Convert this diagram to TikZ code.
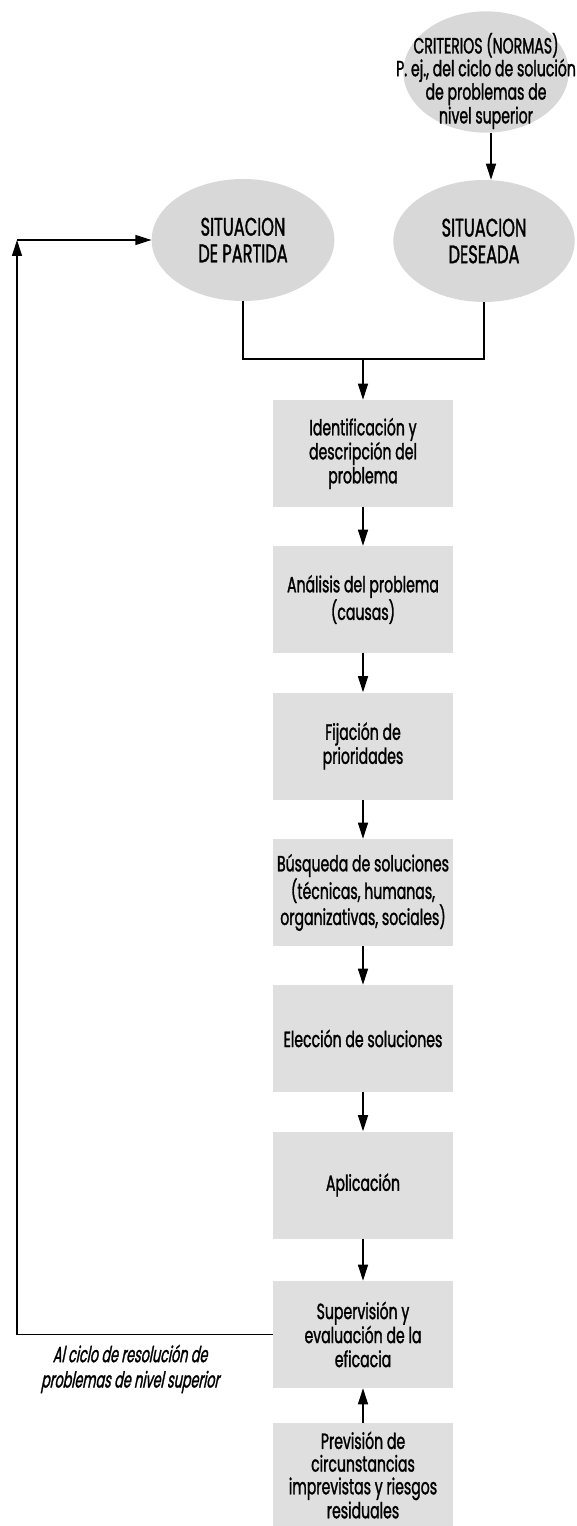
\documentclass[tikz,border=0pt]{standalone}
\usepackage{fontspec}
\setmainfont{Poppins}[FakeStretch=0.64,FakeBold=1.3]
\newfontfamily\notefont{Poppins}[FakeStretch=0.58,FakeSlant=0.2,FakeBold=1.3]
\usetikzlibrary{arrows.meta,shapes.geometric}
\definecolor{ellfill}{RGB}{216,216,216}
\definecolor{boxfill}{RGB}{223,223,223}

\begin{document}
\begin{tikzpicture}[x=0.75pt,y=-0.75pt,
  conn/.style={line width=0.9pt,black},
  flow/.style={conn,-{Triangle[width=7.5pt,length=12pt]}},
  stepbox/.style={fill=boxfill,minimum width=135pt,minimum height=80.25pt,
    inner sep=0pt,align=center,font=\fontsize{16.5}{18}\selectfont},
  state/.style={ellipse,fill=ellfill,inner sep=0pt,align=center,
    font=\fontsize{19}{20}\selectfont},
  caption/.style={inner sep=0pt,align=center},
]
\clip (0,0) rectangle (576,1526);

% states
\node[state,minimum width=124pt,minimum height=91pt] (crit) at (486,72) {};
\node[caption,font=\fontsize{16.5}{15}\selectfont] (critlabel) at (486,81)
  {CRITERIOS (NORMAS)\\P. ej., del ciclo de solución\\de problemas de\\nivel superior};
\node[state,minimum width=137pt,minimum height=91.5pt] (part) at (243,240) {SITUACION\\DE PARTIDA};
\node[state,minimum width=136pt,minimum height=91.5pt] (des) at (484,241) {SITUACION\\DESEADA};

% process steps
\node[stepbox] (b1) at (363,453.5) {Identificación y\\descripción del\\problema};
\node[stepbox] (b2) at (363,599.5) {Análisis del problema\\(causas)};
\node[stepbox] (b3) at (363,746) {Fijación de\\prioridades};
\node[stepbox] (b4) at (363,892.5) {Búsqueda de soluciones\\(técnicas, humanas,\\organizativas, sociales)};
\node[stepbox] (b5) at (363,1038.5) {Elección de soluciones};
\node[stepbox] (b6) at (363,1185) {Aplicación};
\node[stepbox] (b7) at (363,1334.5) {Supervisión y\\evaluación de la\\eficacia};
\node[stepbox,minimum height=78pt,font=\fontsize{16.5}{17}\selectfont] (b8) at (363,1475)
  {Previsión de\\circunstancias\\imprevistas y riesgos\\residuales};

\node[caption,font=\notefont\fontsize{16.5}{19}\selectfont] (note) at (130,1369)
  {Al ciclo de resolución de\\problemas de nivel superior};

% connectors
\draw[flow] ([xshift=3.75pt]crit.south) -- ([xshift=3.75pt]crit.south |- des.north);
\coordinate (join) at (363,359);
\draw[conn] (part.south) |- (join) -| (des.south);
\draw[flow] (join) -- (b1.north);
\draw[flow] (b1) -- (b2);
\draw[flow] (b2) -- (b3);
\draw[flow] (b3) -- (b4);
\draw[flow] (b4) -- (b5);
\draw[flow] (b5) -- (b6);
\draw[flow] (b6) -- (b7);
\draw[flow] (b8) -- (b7);
\coordinate (turn) at (17,240);
\draw[flow] (b7.west) -| (turn);
\draw[flow] (turn) -- (part.west);
% the lowest box runs on past the lower edge
\fill[boxfill] (b8.south west) rectangle ([yshift=-12pt]b8.south east);
\end{tikzpicture}
\end{document}
